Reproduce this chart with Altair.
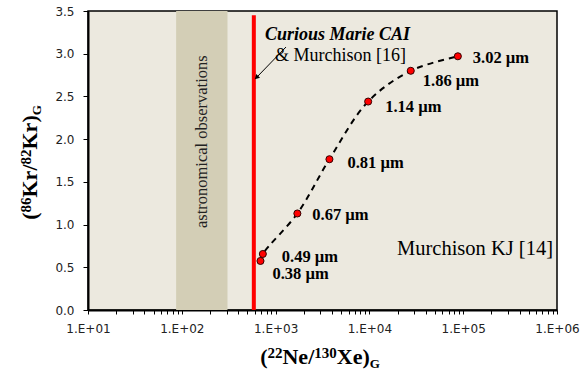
import altair as alt
import pandas as pd

# ---- data ----
sizes = ["0.38 µm", "0.49 µm", "0.67 µm", "0.81 µm", "1.14 µm", "1.86 µm", "3.02 µm"]
ne_xe = [690, 731, 1706, 3750, 9700, 27600, 87700]
kr_ratio = [0.574, 0.656, 1.13, 1.765, 2.44, 2.80, 2.97]

band_lo, band_hi = 87, 307          # astronomical observations range
cai_x, cai_top = 586, 3.45          # Curious Marie CAI line

x_ticks = [m * 10 ** k for k in range(1, 6) for m in range(1, 10)] + [10 ** 6]
y_ticks = [0, 0.5, 1.0, 1.5, 2.0, 2.5, 3.0, 3.5]

# label offsets (style only)
label_dx = [12, 19, 15, 18, 17, 12, 15]
label_dy = [13, 3, 2, 4, 5, 10, 2]

W, H = 469, 299
SERIF = "Liberation Serif"

xs = alt.Scale(type="log", domain=[10, 1e6])
ys = alt.Scale(domain=[0, 3.5])

x_axis = alt.Axis(
    values=x_ticks,
    labelExpr="abs(log(datum.value)/LN10 - round(log(datum.value)/LN10)) < 0.001 ? '1.E+0' + round(log(datum.value)/LN10) : ''",
    labelOverlap=False, labelFlush=False, grid=False, title=None,
    tickSize=4, tickColor="black", domainColor="black", domainWidth=2,
    labelFont="DejaVu Sans", labelFontSize=12, labelColor="#222",
    labelPadding=9,
)
y_axis = alt.Axis(
    values=y_ticks, format=".1f", grid=False, title=None,
    tickSize=5, tickColor="black", domainColor="black", domainWidth=2,
    labelFont="DejaVu Sans", labelFontSize=12, labelColor="#222",
    labelPadding=9,
)

def X(f):
    return alt.X(f, scale=xs, axis=x_axis, title=None)

def Y(f):
    return alt.Y(f, scale=ys, axis=y_axis, title=None)

df = pd.DataFrame({"x": ne_xe, "y": kr_ratio, "label": sizes})

band = alt.Chart(pd.DataFrame({"a": [band_lo], "b": [band_hi]})).mark_rect(
    color="#D3CEB6"
).encode(x=X("a:Q"), x2="b:Q", y=alt.value(0), y2=alt.value(H))

band_text = alt.Chart(pd.DataFrame({"x": [165], "y": [1.97]})).mark_text(
    text="astronomical observations", angle=270, font=SERIF, fontSize=16.5,
    align="center", baseline="middle", color="#222"
).encode(x=X("x:Q"), y=Y("y:Q"))

red = alt.Chart(pd.DataFrame({"x": [cai_x], "y0": [0], "y1": [cai_top]})).mark_rule(
    color="#FF0000", strokeWidth=4
).encode(x=X("x:Q"), y=Y("y0:Q"), y2="y1:Q")

line = alt.Chart(df).mark_line(
    color="black", strokeWidth=2, strokeDash=[6, 5], interpolate="catmull-rom"
).encode(x=X("x:Q"), y=Y("y:Q"), order="x:Q")

points = alt.Chart(df).mark_point(
    filled=True, shape="circle", size=50, color="#FF0000",
    stroke="#300", strokeWidth=1, opacity=1
).encode(x=X("x:Q"), y=Y("y:Q"))

labels = []
for i, s in enumerate(sizes):
    labels.append(
        alt.Chart(df.iloc[[i]]).mark_text(
            font=SERIF, fontSize=16.5, fontWeight="bold", align="left",
            baseline="middle", dx=label_dx[i], dy=label_dy[i], color="black"
        ).encode(x=X("x:Q"), y=Y("y:Q"), text="label:N")
    )

one = alt.Data(values=[{}])

def txt(text, x, y, **kw):
    return alt.Chart(one).mark_text(text=text, **kw).encode(x=alt.value(x), y=alt.value(y))

annots = [
    txt("Curious Marie CAI", 177, 24, font=SERIF, fontSize=18, fontWeight="bold",
        fontStyle="italic", align="left", baseline="middle", color="black"),
    txt("& Murchison [16]", 187, 45, font=SERIF, fontSize=18,
        align="left", baseline="middle", color="black"),
    txt("Murchison KJ [14]", 465, 238, font=SERIF, fontSize=20.5,
        align="right", baseline="middle", color="black"),
]

# ---- axis titles built from pieces (superscripts / subscript) ----
TB = {"(": 333, ")": 333, "/": 278, "N": 722, "e": 444, "X": 722, "K": 778,
      "r": 444, "G": 778}
for d in "0123456789":
    TB[d] = 500

def wid(s, size):
    return sum(TB[c] for c in s) * size / 1000.0

MAIN, SUP, SUB = 22, 15, 13

def pieces(parts):
    # parts: list of (text, kind) kind in main/sup/sub
    out, pos = [], 0.0
    for t, k in parts:
        size = {"main": MAIN, "sup": SUP, "sub": SUB}[k]
        out.append((t, k, size, pos))
        pos += wid(t, size)
    return out, pos

x_parts = [("(", "main"), ("22", "sup"), ("Ne", "main"), ("/", "main"),
           ("130", "sup"), ("Xe", "main"), (")", "main"), ("G", "sub")]
y_parts = [("(", "main"), ("86", "sup"), ("Kr", "main"), ("/", "main"),
           ("82", "sup"), ("Kr", "main"), (")", "main"), ("G", "sub")]

titles = []
xp, xlen = pieces(x_parts)
x_start = 232 - xlen / 2
x_base = {"main": 353, "sup": 347, "sub": 357}
for t, k, size, pos in xp:
    titles.append(txt(t, x_start + pos, x_base[k], font=SERIF, fontSize=size,
                      fontWeight="bold", align="left", baseline="alphabetic",
                      color="black"))

yp, ylen = pieces(y_parts)
y_start = 151.5 + ylen / 2
y_base = {"main": -51, "sup": -57, "sub": -47}
for t, k, size, pos in yp:
    titles.append(txt(t, y_base[k], y_start - pos, font=SERIF, fontSize=size,
                      fontWeight="bold", align="left", baseline="alphabetic",
                      angle=270, color="black"))

arrow_line = alt.Chart(one).mark_rule(color="black", strokeWidth=1).encode(
    x=alt.value(198), y=alt.value(36), x2=alt.value(169), y2=alt.value(66)
)
arrow_head = alt.Chart(one).mark_point(
    shape="triangle", filled=True, color="black", size=30, angle=225, opacity=1
).encode(x=alt.value(169), y=alt.value(66))

chart = alt.layer(
    band, band_text, red, line, points, *labels, arrow_line, arrow_head,
    *annots, *titles
).properties(
    width=W, height=H,
    autosize=alt.AutoSizeParams(type="none"),
    padding={"left": 88, "top": 11, "right": 28, "bottom": 63},
    background="white",
).configure_view(
    fill="#ECE9DF", stroke="black", strokeWidth=1.5
)

chart.save("out.html", embed_options={"renderer": "svg", "actions": False})
